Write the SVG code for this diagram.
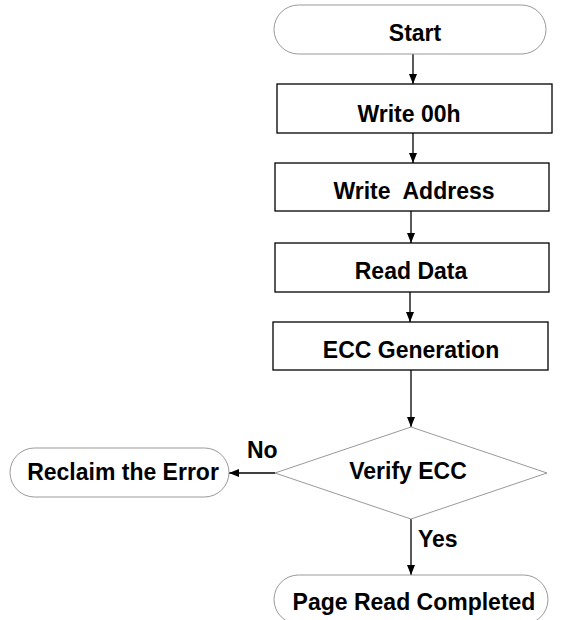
<svg xmlns="http://www.w3.org/2000/svg" width="577" height="620" viewBox="0 0 577 620">
<defs>
<marker id="ah" viewBox="0 0 10 10" refX="10" refY="5" markerWidth="10" markerHeight="10" markerUnits="userSpaceOnUse" orient="auto">
<path d="M0,1 L10,5 L0,9 Z" fill="#000"/>
</marker>
<style>
.term{fill:#fff;stroke:#999;stroke-width:1}
.box{fill:#fff;stroke:#000;stroke-width:1.3}
.dec{fill:#fff;stroke:#999;stroke-width:1}
.t{font-family:"Liberation Sans",Arial,sans-serif;font-weight:bold;font-size:23px;fill:#000;text-anchor:middle}
.lbl{font-family:"Liberation Sans",Arial,sans-serif;font-weight:bold;font-size:23px;fill:#000}
.c{stroke:#000;stroke-width:1.3;fill:none;marker-end:url(#ah)}
</style>
</defs>
<rect width="577" height="620" fill="#fff"/>
<g id="connectors">
<line class="c" x1="413" y1="54" x2="413" y2="84"/>
<line class="c" x1="413" y1="133" x2="413" y2="163"/>
<line class="c" x1="411" y1="211" x2="411" y2="243"/>
<line class="c" x1="410" y1="292" x2="410" y2="322"/>
<line class="c" x1="411" y1="370" x2="411" y2="427"/>
<line class="c" x1="275" y1="473" x2="229" y2="473"/>
<line class="c" x1="411" y1="519" x2="411" y2="575"/>
<text class="lbl" x="247" y="458">No</text>
<text class="lbl" x="418" y="547">Yes</text>
</g>
<g id="start">
<rect class="term" x="274" y="5" width="272" height="49" rx="24.5"/>
<text class="t" x="415" y="41">Start</text>
</g>
<g id="write00h">
<rect class="box" x="277" y="84" width="275" height="49"/>
<text class="t" x="409" y="122">Write 00h</text>
</g>
<g id="writeaddress">
<rect class="box" x="275" y="163" width="274" height="48"/>
<text class="t" x="414" y="199" xml:space="preserve" style="white-space:pre">Write  Address</text>
</g>
<g id="readdata">
<rect class="box" x="275" y="243" width="274" height="49"/>
<text class="t" x="411" y="279">Read Data</text>
</g>
<g id="eccgen">
<rect class="box" x="273" y="322" width="275" height="48"/>
<text class="t" x="411" y="358">ECC Generation</text>
</g>
<g id="verify">
<polygon class="dec" points="411,427 547,473 411,519 275,473"/>
<text class="t" x="408" y="479">Verify ECC</text>
</g>
<g id="reclaim">
<rect class="term" x="10" y="448" width="219" height="49" rx="24.5"/>
<text class="t" x="123" y="480">Reclaim the Error</text>
</g>
<g id="completed">
<rect class="term" x="274" y="575" width="274" height="49" rx="24.5"/>
<text class="t" x="414" y="610">Page Read Completed</text>
</g>
</svg>
